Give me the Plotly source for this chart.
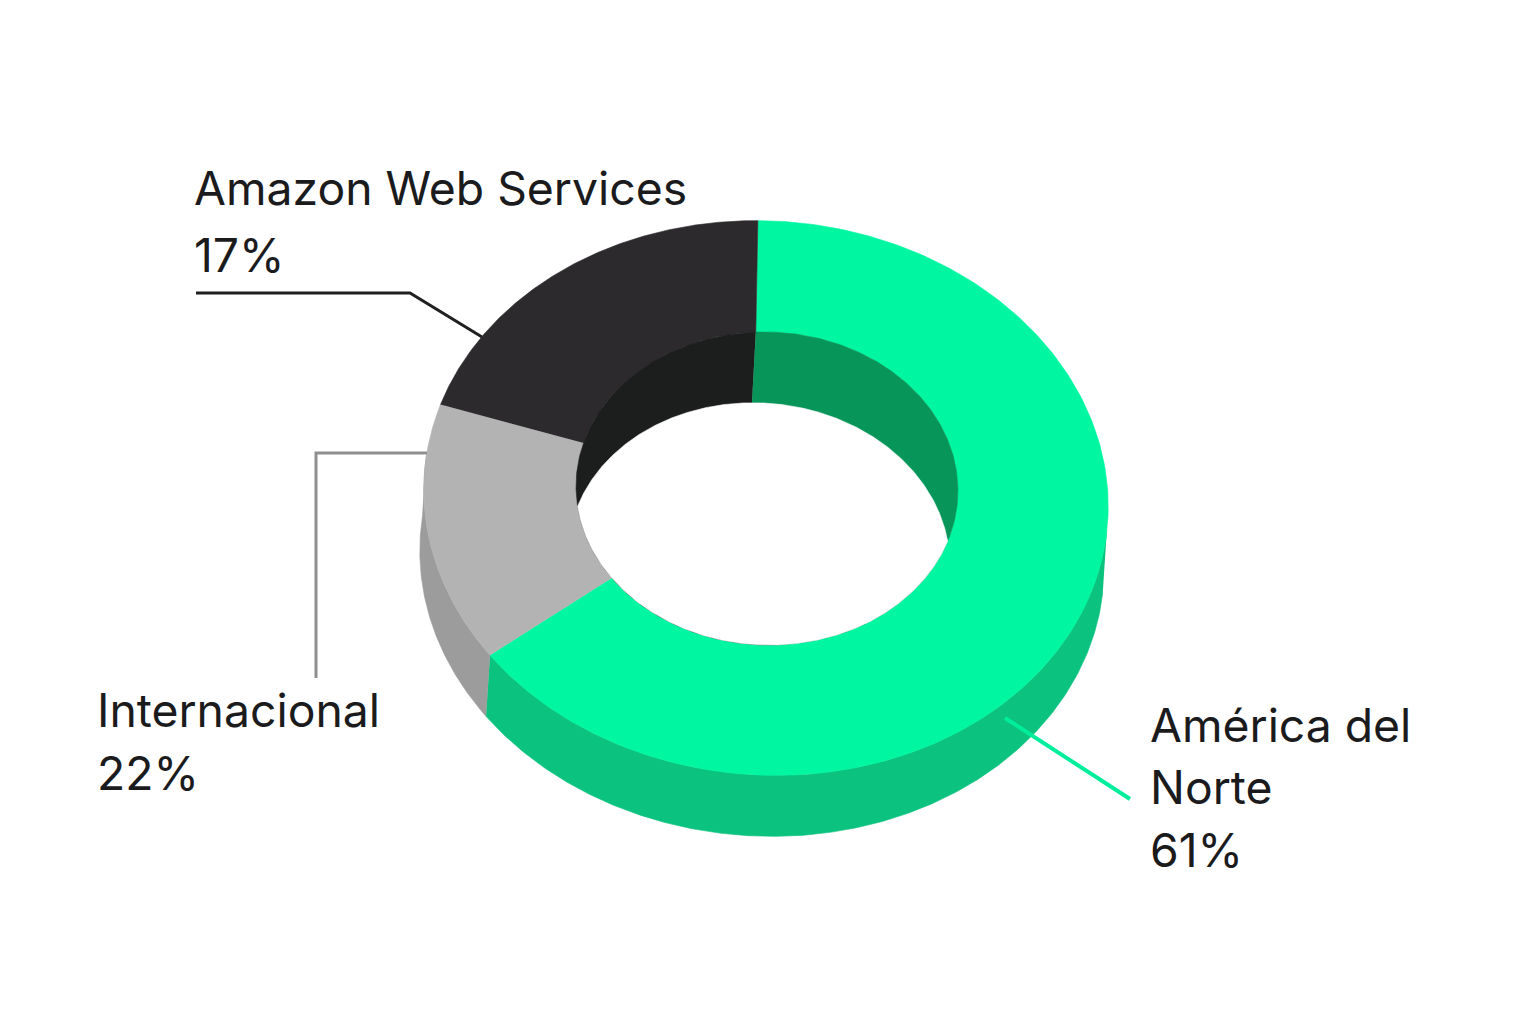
import numpy as np
import plotly.graph_objects as go

# ---- data ----
categories = ["América del Norte", "Internacional", "Amazon Web Services"]
label_pct = [61, 22, 17]                    # printed on the chart
drawn_share = [65.31, 15.06, 19.63]         # share of the ring as drawn (%)
top_colors = ["#00F6A0", "#B3B3B3", "#2D2A2E"]
wall_colors = ["#0CC27F", "#9C9C9C", "#2D2A2E"]
inner_dark = "#1C1D1D"
inner_green = "#079559"
start_angle = -4.6
inner_edge_offset = [-0.4, 2.2, -0.3, -0.4]  # inner rim edges are slightly skewed in the picture
lens_start = -5.8

# ---- drawing parameters ----
W, H = 1536, 1024
OUT = dict(cx=766, cy=498, rx=342.5, ry=277)
INN = dict(cx=767, cy=488.5, rx=191, ry=156.5)
OUT_TILT = 4.0
TILT = 2.0
LENS_TILT = 4.5
WALL_SHIFT = (-4, 61)
HOLE_SHIFT = (-8, 71)
FONT = "Inter"
TXT = "#1B1B1D"
FS = 46.3


def ell(t_deg, e, shift=(0, 0), tilt=TILT):
    t = np.radians(np.asarray(t_deg, dtype=float))
    r = np.radians(tilt)
    a = e["rx"] * np.sin(t)
    b = -e["ry"] * np.cos(t)
    x = e["cx"] + a * np.cos(r) - b * np.sin(r) + shift[0]
    y = e["cy"] + a * np.sin(r) + b * np.cos(r) + shift[1]
    return x, y


def inside(x, y, e, shift=(0, 0), tilt=TILT):
    r = np.radians(tilt)
    dx = x - e["cx"] - shift[0]
    dy = y - e["cy"] - shift[1]
    a = dx * np.cos(r) + dy * np.sin(r)
    b = -dx * np.sin(r) + dy * np.cos(r)
    return (a / e["rx"]) ** 2 + (b / e["ry"]) ** 2 <= 1


def arc(a, b, n=240):
    return np.linspace(a, b, n)


def poly(xs, ys, color, name):
    return go.Scatter(
        x=np.concatenate(xs), y=np.concatenate(ys), mode="lines", fill="toself",
        fillcolor=color, line=dict(color=color, width=0.6), hoverinfo="name",
        name=name, showlegend=False,
    )


edges = start_angle + np.concatenate([[0], np.cumsum(drawn_share) * 3.6])
edges[-1] = start_angle + 360
inner_edges = edges + np.array(inner_edge_offset)
traces = []

# outer walls: only the front half of the ellipse is visible
for i, name in enumerate(categories):
    lo, hi = max(edges[i], 92), min(edges[i + 1], 274)
    if hi <= lo:
        continue
    t = arc(lo, hi)
    x1, y1 = ell(t, OUT, tilt=OUT_TILT)
    x2, y2 = ell(t[::-1], OUT, WALL_SHIFT, OUT_TILT)
    traces.append(poly([x1, x2], [y1, y2], wall_colors[i], name + " lateral"))

# top faces
for i, name in enumerate(categories):
    t = arc(edges[i], edges[i + 1])
    x1, y1 = ell(t, OUT, tilt=OUT_TILT)
    x2, y2 = ell(arc(inner_edges[i], inner_edges[i + 1])[::-1], INN)
    traces.append(poly([x1, x2], [y1, y2], top_colors[i], name))

# inner wall, split at the start angle, then the see-through part of the hole
s0 = inner_edges[0]
apex = ([INN["cx"]], [INN["cy"] + 70])
t = arc(s0 - 180, s0)
x1, y1 = ell(t, INN)
xa, ya = ell([lens_start], INN, HOLE_SHIFT, LENS_TILT)
traces.append(poly([x1, xa, apex[0]], [y1, ya, apex[1]], inner_dark, "pared interior"))
t = arc(s0, s0 + 180)
x1, y1 = ell(t, INN)
traces.append(poly([x1, apex[0], xa], [y1, apex[1], ya], inner_green, "pared interior"))

t_low = arc(0, 360, 1441)
hx, hy = ell(t_low, INN)
keep = inside(hx, hy, INN, HOLE_SHIFT, LENS_TILT)
t_up = arc(-180, 180, 1441)
sx, sy = ell(t_up, INN, HOLE_SHIFT, LENS_TILT)
keep2 = inside(sx, sy, INN)
traces.append(poly([hx[keep], sx[keep2]], [hy[keep], sy[keep2]], "#FFFFFF", "hueco"))

fig = go.Figure(traces)

shapes = [
    dict(type="path", path="M196,293 L410,293 L482,337", line=dict(color="#1F1F21", width=3)),
    dict(type="path", path="M316,678 L316,453 L427,453", line=dict(color="#8F8F8F", width=3)),
    dict(type="path", path="M1005,718 L1130,799", line=dict(color="#00EE9C", width=4)),
]

label_lines = [
    ("Amazon Web Services", 193, 206),
    (f"{label_pct[2]}%", 193, 273),
    ("Internacional", 96, 728),
    (f"{label_pct[1]}%", 96, 791),
    ("América del", 1149, 743),
    ("Norte", 1149, 805),
    (f"{label_pct[0]}%", 1149, 868),
]
annotations = [
    dict(x=x, y=y + 11, text=s, xanchor="left", yanchor="bottom", showarrow=False,
         xref="x", yref="y", font=dict(family=FONT, size=FS, color=TXT), borderpad=0, align="left")
    for s, x, y in label_lines
]

fig.update_layout(
    width=W, height=H, margin=dict(l=0, r=0, t=0, b=0), autosize=False,
    paper_bgcolor="white", plot_bgcolor="white", showlegend=False,
    xaxis=dict(range=[0, W], visible=False, fixedrange=True),
    yaxis=dict(range=[H, 0], visible=False, fixedrange=True),
    shapes=shapes, annotations=annotations,
)
fig.write_html("out.html", config=dict(displayModeBar=False),
               post_script="document.body.style.margin='0';document.body.style.overflow='hidden';")
